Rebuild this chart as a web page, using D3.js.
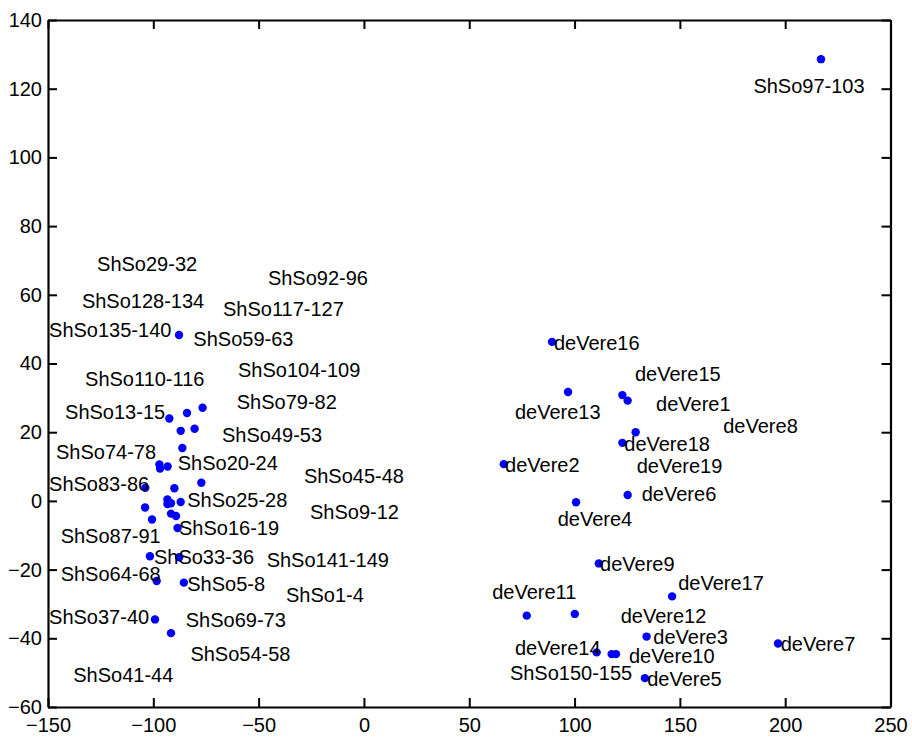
<!DOCTYPE html>
<html>
<head>
<meta charset="utf-8">
<script src="https://cdn.jsdelivr.net/npm/d3@7"></script>
<style>
  body { margin: 0; background: #fff; }
  svg text { font-family: "Liberation Sans", Arial, sans-serif; }
</style>
</head>
<body>
<div id="canvas"></div>
<script>
"use strict"

let drawingWidth = 912;
let drawingHeight = 738;

/* points */
let pointX = [-87.8, -92.4, -84.0, -76.6, -87.0, -80.4, -86.2, -97.1, -96.8, -93.2,
              -77.2, -90.0, -103.8, -93.3, -93.3, -91.6, -87.0, -103.9, -91.6, -89.2,
              -100.6, -88.5, -101.6, -87.7, -98.4, -85.5, -99.2, -91.6,
              89.3, 96.9, 122.7, 125.2, 129.0, 122.7, 66.4, 125.2, 100.7, 111.5,
              146.3, 77.3, 100.1, 134.2, 196.6, 110.5, 117.6, 119.7, 133.4, 217.0];
let pointY = [48.3, 24.0, 25.6, 27.1, 20.4, 21.0, 15.4, 10.6, 9.4, 10.0,
              5.3, 3.7, 3.8, 0.4, -0.9, -0.7, -0.3, -1.9, -3.7, -4.4,
              -5.4, -7.9, -16.1, -16.4, -23.3, -23.8, -34.5, -38.5,
              46.3, 31.7, 30.8, 29.2, 20.0, 16.9, 10.7, 1.7, -0.4, -18.2,
              -27.8, -33.4, -32.9, -39.5, -41.5, -44.1, -44.6, -44.6, -51.6, 128.6];

/* text labels and where they sit (left edge, middle) */
let labelNames = ["ShSo29-32", "ShSo92-96", "ShSo128-134", "ShSo117-127", "ShSo135-140",
                  "ShSo59-63", "ShSo110-116", "ShSo104-109", "ShSo13-15", "ShSo79-82",
                  "ShSo49-53", "ShSo74-78", "ShSo20-24", "ShSo45-48", "ShSo83-86",
                  "ShSo25-28", "ShSo9-12", "ShSo87-91", "ShSo16-19", "ShSo33-36",
                  "ShSo141-149", "ShSo64-68", "ShSo5-8", "ShSo1-4", "ShSo37-40",
                  "ShSo69-73", "ShSo54-58", "ShSo41-44", "ShSo97-103", "ShSo150-155",
                  "deVere16", "deVere15", "deVere13", "deVere1", "deVere8",
                  "deVere18", "deVere2", "deVere19", "deVere6", "deVere4",
                  "deVere9", "deVere17", "deVere11", "deVere12", "deVere3",
                  "deVere7", "deVere14", "deVere10", "deVere5"];
let labelX = [-126.7, -45.6, -133.9, -66.9, -149.5, -81.0, -132.4, -59.8, -141.9, -60.4,
              -67.4, -146.2, -88.4, -28.5, -149.5, -83.9, -25.6, -144.0, -87.8, -99.7,
              -46.2, -144.0, -83.9, -37.0, -149.5, -84.6, -82.4, -138.0, 184.9, 69.3,
              90.2, 128.7, 71.7, 138.7, 170.6, 123.6, 67.0, 129.5, 131.9, 92.0,
              112.1, 149.2, 60.9, 121.9, 137.4, 197.9, 71.7, 125.8, 134.5];
let labelY = [69.0, 64.9, 58.2, 55.9, 49.8, 47.1, 35.6, 38.1, 25.9, 28.8,
              19.3, 14.2, 11.1, 7.2, 4.9, 0.3, -3.2, -10.1, -8.0, -16.4,
              -17.2, -21.3, -24.3, -27.4, -33.8, -34.7, -44.6, -50.7, 120.8, -50.2,
              45.9, 36.9, 26.0, 28.2, 21.8, 16.6, 10.5, 10.2, 2.0, -5.3,
              -18.5, -24.0, -26.4, -33.5, -39.5, -41.7, -42.7, -45.2, -51.9];

let xTicks = [-150, -100, -50, 0, 50, 100, 150, 200, 250];
let yTicks = [-60, -40, -20, 0, 20, 40, 60, 80, 100, 120, 140];

let plotLeft = 48, plotRight = 890.5, plotTop = 20, plotBottom = 707;

let drawing = d3.select("#canvas")
    .append("svg")
    .attr("width", drawingWidth)
    .attr("height", drawingHeight);

let xScale = d3.scaleLinear().domain([-150, 250]).range([plotLeft, plotRight]);
let yScale = d3.scaleLinear().domain([-60, 140]).range([plotBottom, plotTop]);

/* points */
drawing.append("g")
    .selectAll("circle")
    .data(pointX)
    .join("circle")
    .attr("cx", (d, i) => xScale(d))
    .attr("cy", (d, i) => yScale(pointY[i]))
    .attr("r", 4.2)
    .attr("fill", "#0000ff");

/* labels */
drawing.append("g")
    .selectAll("text")
    .data(labelNames)
    .join("text")
    .attr("x", (d, i) => xScale(labelX[i]))
    .attr("y", (d, i) => yScale(labelY[i]))
    .attr("dominant-baseline", "central")
    .attr("font-size", 20)
    .attr("fill", "#000")
    .text(d => d);

/* axes, ticks pointing inward on all four sides */
let bottomAxis = drawing.append("g")
    .attr("transform", `translate(0,${plotBottom})`)
    .call(d3.axisBottom(xScale).tickValues(xTicks).tickSizeInner(-9).tickSizeOuter(0).tickPadding(11));
let topAxis = drawing.append("g")
    .attr("transform", `translate(0,${plotTop})`)
    .call(d3.axisTop(xScale).tickValues(xTicks).tickSizeInner(-9).tickSizeOuter(0).tickFormat(""));
let leftAxis = drawing.append("g")
    .attr("transform", `translate(${plotLeft},0)`)
    .call(d3.axisLeft(yScale).tickValues(yTicks).tickSizeInner(-9).tickSizeOuter(0).tickPadding(6));
let rightAxis = drawing.append("g")
    .attr("transform", `translate(${plotRight},0)`)
    .call(d3.axisRight(yScale).tickValues(yTicks).tickSizeInner(-9).tickSizeOuter(0).tickFormat(""));

drawing.selectAll(".domain").attr("stroke", "#000").attr("stroke-width", 2.2);
drawing.selectAll(".tick line").attr("stroke", "#000").attr("stroke-width", 2);
drawing.selectAll(".tick text")
    .attr("font-size", 20)
    .attr("fill", "#000")
    .attr("font-family", "'Liberation Sans', Arial, sans-serif");
</script>
</body>
</html>
